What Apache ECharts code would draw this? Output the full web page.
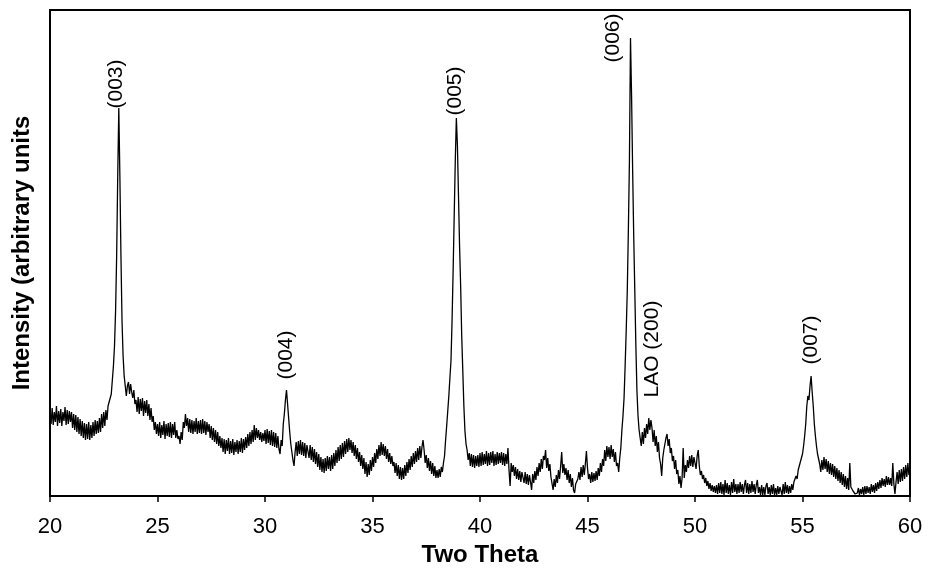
<!DOCTYPE html>
<html>
<head>
<meta charset="utf-8">
<script src="https://cdn.jsdelivr.net/npm/echarts@6/dist/echarts.min.js"></script>
<style>
  html, body { margin: 0; padding: 0; background: #fff; }
  #chart { width: 928px; height: 574px; }
</style>
</head>
<body>
<div id="chart"></div>
<script>
// Step scan: 2-theta from 20 to 60 degrees, 0.05 degree per step
const scanStart = 20.0;
const scanStep = 0.05;

// Counts (arbitrary units), one row per degree, 20 steps per row
const counts20to30 = [
  86, 72, 88, 71, 84, 74, 90, 70, 85, 73, 87, 70, 84, 75, 89, 71, 86, 72, 85, 74,
  84, 68, 82, 66, 81, 64, 79, 62, 77, 60, 75, 58, 73, 56, 72, 57, 74, 56, 71, 58,
  74, 60, 76, 62, 75, 63, 78, 64, 82, 68, 84, 70, 86, 76, 90, 88, 98, 102, 116, 130,
  150, 185, 240, 320, 388, 320, 240, 175, 140, 120, 110, 100, 110, 114, 102, 112, 104, 98, 106, 92,
  96, 84, 99, 82, 97, 85, 98, 80, 95, 83, 96, 80, 92, 76, 88, 74, 80, 66, 74, 62,
  72, 60, 74, 58, 71, 61, 75, 57, 72, 60, 73, 59, 74, 58, 72, 61, 74, 58, 66, 57,
  60, 52, 64, 56, 74, 68, 82, 70, 78, 64, 77, 63, 76, 62, 75, 64, 78, 62, 75, 63,
  76, 62, 77, 63, 75, 61, 74, 64, 72, 58, 70, 56, 68, 54, 66, 52, 64, 50, 60, 48,
  58, 44, 57, 42, 56, 45, 58, 42, 55, 43, 57, 41, 54, 44, 56, 42, 55, 44, 58, 43,
  57, 46, 59, 48, 62, 50, 64, 52, 66, 54, 71, 56, 68, 58, 66, 56, 64, 54, 63, 55
];
const counts30to40 = [
  66, 52, 67, 53, 65, 51, 66, 50, 64, 49, 63, 48, 60, 47, 42, 56, 50, 72, 82, 96,
  106, 92, 78, 64, 52, 44, 36, 30, 44, 54, 40, 55, 42, 56, 41, 54, 40, 53, 38, 51,
  50, 38, 51, 36, 49, 34, 47, 32, 44, 29, 42, 26, 39, 24, 37, 23, 38, 25, 40, 27,
  39, 25, 41, 27, 43, 30, 46, 33, 49, 35, 51, 37, 53, 39, 55, 42, 57, 44, 58, 46,
  56, 43, 54, 40, 51, 37, 48, 34, 44, 30, 41, 27, 38, 22, 34, 19, 32, 21, 36, 25,
  39, 29, 43, 33, 47, 37, 51, 40, 54, 41, 52, 40, 50, 37, 47, 34, 43, 32, 40, 30,
  34, 23, 33, 20, 31, 17, 29, 16, 28, 17, 31, 20, 34, 23, 37, 26, 40, 29, 43, 32,
  45, 34, 48, 36, 50, 38, 49, 56, 46, 33, 41, 28, 38, 25, 35, 22, 33, 20, 30, 18,
  26, 18, 27, 19, 29, 24, 33, 40, 56, 70, 85, 100, 118, 135, 175, 225, 280, 335, 378, 350,
  300, 250, 210, 160, 125, 90, 65, 52, 46, 36, 43, 30, 42, 29, 41, 28, 40, 30, 41, 29
];
const counts40to50 = [
  43, 30, 44, 31, 42, 32, 45, 30, 43, 31, 44, 33, 45, 30, 42, 31, 44, 32, 43, 33,
  44, 31, 43, 30, 42, 32, 48, 26, 10, 33, 24, 31, 20, 29, 17, 27, 16, 25, 14, 24,
  23, 13, 24, 12, 22, 11, 21, 14, 6, 22, 13, 25, 16, 29, 20, 33, 24, 37, 27, 40,
  36, 46, 28, 38, 25, 32, 19, 20, 6, 17, 9, 21, 13, 26, 17, 30, 44, 23, 32, 21,
  28, 16, 26, 13, 22, 9, 18, 6, 3, 12, 14, 17, 24, 16, 29, 19, 31, 21, 32, 45,
  28, 17, 22, 13, 24, 14, 23, 15, 25, 16, 28, 20, 33, 24, 37, 30, 46, 35, 50, 39,
  49, 37, 51, 39, 47, 34, 44, 30, 33, 24, 38, 48, 66, 80, 98, 130, 165, 205, 265, 335,
  458, 400, 325, 260, 205, 150, 105, 80, 66, 58, 50, 64, 52, 68, 58, 72, 62, 78, 66, 76,
  68, 54, 66, 50, 60, 44, 54, 38, 32, 20, 38, 46, 52, 58, 62, 50, 57, 43, 48, 35,
  40, 27, 36, 22, 26, 12, 20, 8, 18, 48, 18, 31, 24, 36, 28, 40, 30, 41, 29, 39
];
const counts50to60 = [
  38, 27, 40, 46, 30, 21, 25, 17, 21, 13, 18, 10, 15, 7, 13, 5, 11, 4, 10, 3,
  11, 2, 13, 3, 14, 2, 12, 1, 16, 3, 13, 2, 11, 1, 14, 3, 17, 4, 12, 2,
  12, 3, 14, 4, 12, 2, 11, 16, 3, 13, 2, 12, 3, 15, 4, 12, 2, 11, 16, 3,
  9, 1, 11, 1, 9, 1, 10, 13, 2, 9, 1, 11, 2, 12, 1, 8, 1, 10, 2, 9,
  10, 1, 12, 2, 14, 3, 11, 2, 10, 3, 12, 6, 14, 12, 20, 17, 26, 24, 34, 33,
  42, 50, 60, 72, 90, 100, 96, 110, 120, 104, 90, 72, 60, 50, 42, 37, 32, 24, 36, 26,
  39, 27, 37, 24, 35, 22, 33, 21, 32, 19, 30, 17, 28, 15, 26, 13, 24, 11, 22, 9,
  20, 7, 18, 6, 33, 9, 11, 5, 7, 2, 1, 3, 8, 1, 7, 2, 9, 1, 10, 2,
  10, 3, 9, 2, 12, 4, 11, 3, 13, 5, 14, 7, 16, 8, 18, 10, 17, 9, 20, 11,
  19, 11, 18, 10, 33, 12, 2, 14, 24, 12, 26, 14, 27, 15, 29, 17, 31, 19, 33, 21,
  29
];

// Reflection labels: text, 2-theta of the label, count level where the label starts
const peakNames = ['(003)', '(004)', '(005)', '(006)', 'LAO (200)', '(007)'];
const peakLabelTheta = [23.12, 31.02, 38.88, 46.23, 48.05, 55.44];
const peakLabelLevel = [387, 116, 380, 433, 98, 131];

// X axis ticks
const xMin = 20, xMax = 60, xStep = 5;

const counts = counts20to30.concat(counts30to40, counts40to50, counts50to60);
const pattern = counts.map((c, i) => [+(scanStart + i * scanStep).toFixed(2), c]);
const labelPoints = peakNames.map((n, i) => ({ name: n, value: [peakLabelTheta[i], peakLabelLevel[i]] }));

const FONT = '"Liberation Sans", Arial, sans-serif';
const chart = echarts.init(document.getElementById('chart'), null, { renderer: 'canvas' });
chart.setOption({
  animation: false,
  backgroundColor: '#fff',
  grid: {
    left: 50, right: 18, top: 10, bottom: 78,
    show: true, borderColor: '#000', borderWidth: 2, backgroundColor: 'transparent'
  },
  xAxis: {
    type: 'value', min: xMin, max: xMax, interval: xStep,
    name: 'Two Theta', nameLocation: 'middle', nameGap: 47,
    nameTextStyle: { fontFamily: FONT, fontSize: 24, fontWeight: 'bold', color: '#000' },
    axisLine: { show: true, lineStyle: { color: '#000', width: 2 } },
    axisTick: { show: true, inside: false, length: 6, lineStyle: { color: '#000', width: 1.5 } },
    axisLabel: { fontFamily: FONT, fontSize: 22, color: '#000', margin: 20 },
    splitLine: { show: false }
  },
  yAxis: {
    type: 'value', min: 0, max: 486,
    name: 'Intensity (arbitrary units', nameLocation: 'middle', nameGap: 16, nameRotate: 90,
    nameTextStyle: { fontFamily: FONT, fontSize: 24, fontWeight: 'bold', color: '#000' },
    axisLine: { show: true, lineStyle: { color: '#000', width: 2 } },
    axisTick: { show: false },
    axisLabel: { show: false },
    splitLine: { show: false }
  },
  series: [
    {
      type: 'line',
      data: pattern,
      showSymbol: false,
      symbol: 'none',
      sampling: null,
      lineStyle: { color: '#000', width: 1.3 },
      silent: true,
      z: 3
    },
    {
      type: 'scatter',
      data: labelPoints,
      symbolSize: 1,
      itemStyle: { color: 'rgba(0,0,0,0)', opacity: 1 },
      silent: true,
      z: 4,
      label: {
        show: true,
        formatter: p => p.name,
        position: [0, 0],
        rotate: 90,
        align: 'left',
        verticalAlign: 'middle',
        fontFamily: FONT,
        fontSize: 21,
        color: '#000',
        opacity: 1
      }
    }
  ]
});
</script>
</body>
</html>
